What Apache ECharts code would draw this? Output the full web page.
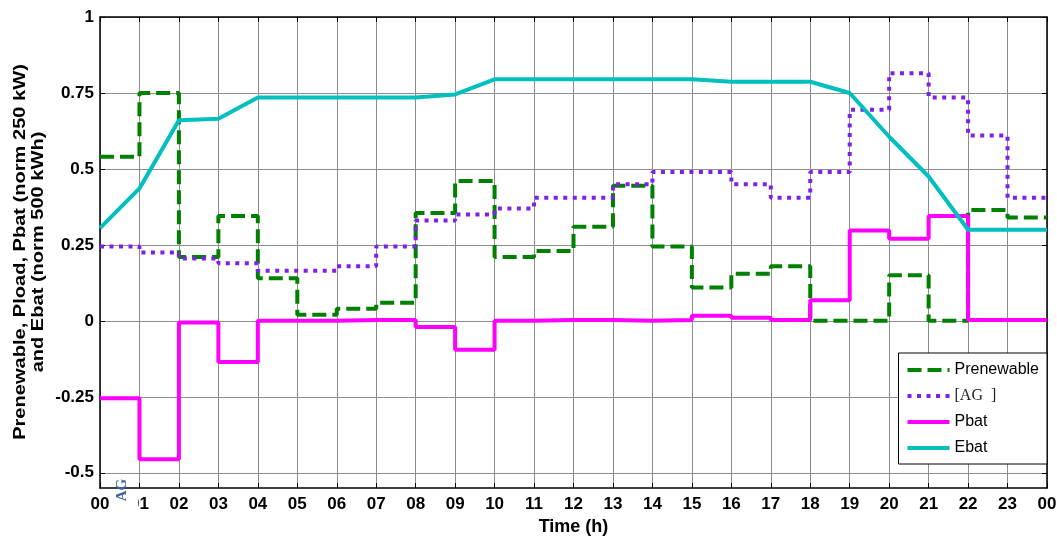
<!DOCTYPE html>
<html>
<head>
<meta charset="utf-8">
<script src="https://cdn.jsdelivr.net/npm/echarts@6/dist/echarts.min.js"></script>
<style>
  html, body { margin: 0; padding: 0; background: #ffffff; }
  #chart { width: 1057px; height: 537px; }
</style>
</head>
<body>
<div id="chart"></div>
<script>
// Hour boundaries of the day and their tick labels
const hours = [0, 1, 2, 3, 4, 5, 6, 7, 8, 9, 10, 11, 12, 13, 14, 15, 16, 17, 18, 19, 20, 21, 22, 23, 24];
const hourLabels = ['00', '01', '02', '03', '04', '05', '06', '07', '08', '09', '10', '11',
                    '12', '13', '14', '15', '16', '17', '18', '19', '20', '21', '22', '23', '00'];
const yTicks = [-0.5, -0.25, 0, 0.25, 0.5, 0.75, 1];

// Hourly (piecewise constant) powers, normalised to 250 kW
const prenewable = [0.54, 0.75, 0.21, 0.345, 0.14, 0.02, 0.04, 0.06, 0.355, 0.46, 0.21, 0.23,
                    0.31, 0.445, 0.245, 0.11, 0.155, 0.18, 0, 0, 0.15, 0, 0.365, 0.34];
const pload = [0.245, 0.225, 0.205, 0.19, 0.165, 0.165, 0.18, 0.245, 0.33, 0.35, 0.37, 0.405,
               0.405, 0.45, 0.49, 0.49, 0.45, 0.405, 0.49, 0.695, 0.815, 0.735, 0.61, 0.405];
const pbat = [-0.255, -0.455, -0.005, -0.135, 0, 0, 0.003, 0.003, -0.02, -0.095, 0, 0.003,
              0.003, 0, 0.003, 0.017, 0.01, 0.003, 0.068, 0.297, 0.27, 0.345, 0.003, 0.003];
// Stored energy at each hour boundary, normalised to 500 kWh
const ebat = [0.305, 0.436, 0.66, 0.665, 0.735, 0.735, 0.735, 0.735, 0.735, 0.745, 0.795, 0.795,
              0.795, 0.795, 0.795, 0.795, 0.787, 0.787, 0.787, 0.75, 0.606, 0.475, 0.30, 0.30, 0.30];

// Hold each hourly value until the next boundary (last value repeated at 24 h)
function stepData(values) {
  return hours.map((h, i) => [h, values[Math.min(i, values.length - 1)]]);
}

const FONT = 'Arial, "Liberation Sans", sans-serif';
const chart = echarts.init(document.getElementById('chart'), null, { renderer: 'canvas' });

const gridLine = { show: true, lineStyle: { color: '#8e8e8e', width: 1 } };
const boxLine = { show: true, onZero: false, lineStyle: { color: '#000', width: 1.5 } };
const innerTick = { show: true, inside: true, length: 5, lineStyle: { color: '#000', width: 1 } };

chart.setOption({
  animation: false,
  backgroundColor: '#ffffff',
  grid: { left: 100, right: 10, top: 17, bottom: 49, containLabel: false, outerBoundsMode: 'none' },
  xAxis: [
    {
      type: 'value', min: 0, max: 24, interval: 1, position: 'bottom',
      axisLine: boxLine, axisTick: innerTick, splitLine: gridLine,
      axisLabel: {
        color: '#000', fontFamily: FONT, fontWeight: 'bold', fontSize: 17, margin: 8,
        formatter: v => hourLabels[Math.round(v)]
      },
      name: 'Time (h)', nameLocation: 'middle', nameGap: 30,
      nameTextStyle: { color: '#000', fontFamily: FONT, fontWeight: 'bold', fontSize: 18 }
    },
    {
      type: 'value', min: 0, max: 24, interval: 1, position: 'top',
      axisLine: boxLine, axisTick: innerTick, axisLabel: { show: false }, splitLine: { show: false }
    }
  ],
  yAxis: [
    {
      type: 'value', min: -0.55, max: 1, position: 'left',
      axisLine: boxLine,
      axisTick: Object.assign({ customValues: yTicks }, innerTick),
      splitLine: gridLine,
      axisLabel: {
        customValues: yTicks,
        color: '#000', fontFamily: FONT, fontWeight: 'bold', fontSize: 17, margin: 6,
        formatter: v => String(v)
      }
    },
    {
      type: 'value', min: -0.55, max: 1, position: 'right',
      axisLine: boxLine,
      axisTick: Object.assign({ customValues: yTicks }, innerTick),
      axisLabel: { show: false, customValues: yTicks },
      splitLine: { show: false }
    }
  ],
  legend: {
    orient: 'vertical', right: 10, top: 353,
    itemWidth: 42, itemHeight: 14, itemGap: 10,
    padding: [9, 8, 8, 7],
    backgroundColor: '#ffffff', borderColor: '#000', borderWidth: 1,
    itemStyle: { opacity: 0, borderWidth: 0 },
    lineStyle: { width: 'inherit', type: 'inherit' },
    textStyle: {
      color: '#000', fontFamily: FONT, fontSize: 16,
      rich: { s: { fontFamily: '"Liberation Serif", serif', fontSize: 16, color: '#222' } }
    },
    formatter: name => name === 'Pload' ? '{s|[AG  ]}' : name,
    data: ['Prenewable', 'Pload', 'Pbat', 'Ebat']
  },
  graphic: [
    {
      // two-line y-axis title
      type: 'text', x: 29, y: 252, rotation: Math.PI / 2, scaleX: 1.18, z: 50,
      style: {
        text: 'Prenewable, Pload, Pbat (norm 250 kW)\nand Ebat (norm 500 kWh)',
        font: 'bold 17px Arial, "Liberation Sans", sans-serif', lineHeight: 18,
        fill: '#000', align: 'center', verticalAlign: 'middle'
      }
    },
    { type: 'rect', shape: { x: 113, y: 491, width: 25, height: 22 }, style: { fill: '#ffffff' }, z: 100 },
    {
      type: 'text', x: 122, y: 490, rotation: Math.PI / 2, z: 101,
      style: { text: 'AG', font: 'bold 15px "Liberation Serif", serif', fill: '#3f5f9a', align: 'center', verticalAlign: 'middle' }
    }
  ],
  series: [
    {
      name: 'Prenewable', type: 'line', step: 'end', data: stepData(prenewable),
      symbol: 'none', showSymbol: false, z: 2,
      lineStyle: { color: '#008000', width: 4, type: [14, 6] }, itemStyle: { color: '#008000' }
    },
    {
      name: 'Pload', type: 'line', step: 'end', data: stepData(pload),
      symbol: 'none', showSymbol: false, z: 3,
      lineStyle: { color: '#7f1fe8', width: 4, type: [4, 5.5] }, itemStyle: { color: '#7f1fe8' }
    },
    {
      name: 'Pbat', type: 'line', step: 'end', data: stepData(pbat),
      symbol: 'none', showSymbol: false, z: 4,
      lineStyle: { color: '#ff00ff', width: 4 }, itemStyle: { color: '#ff00ff' }
    },
    {
      name: 'Ebat', type: 'line', data: hours.map((h, i) => [h, ebat[i]]),
      symbol: 'none', showSymbol: false, z: 5,
      lineStyle: { color: '#00bfbf', width: 4 }, itemStyle: { color: '#00bfbf' }
    }
  ]
});
</script>
</body>
</html>
